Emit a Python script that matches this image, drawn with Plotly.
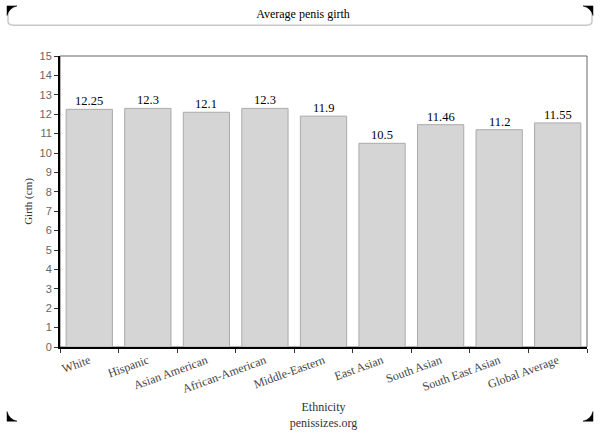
import plotly.graph_objects as go

# Data
ethnicities = ["White", "Hispanic", "Asian American", "African-American", "Middle-Eastern",
               "East Asian", "South Asian", "South East Asian", "Global Average"]
girth_cm = [12.25, 12.3, 12.1, 12.3, 11.9, 10.5, 11.46, 11.2, 11.55]
girth_text = ["12.25", "12.3", "12.1", "12.3", "11.9", "10.5", "11.46", "11.2", "11.55"]
y_ticks = list(range(0, 16))

W, H = 600, 440
L, R, T, B = 60, 13, 56, 82
pw, ph = W - L - R, H - T - B


def px(x):
    return (x - L) / pw


def py(y):
    return (H - B - y) / ph


serif = "Liberation Serif"
sans = "Liberation Sans"

fig = go.Figure(go.Bar(
    x=ethnicities, y=girth_cm,
    marker=dict(color="#d5d5d5", line=dict(color="#aaaaaa", width=1)),
    hoverinfo="x+y",
))

# value labels just above each bar
annotations = []
for name, val, txt in zip(ethnicities, girth_cm, girth_text):
    annotations.append(dict(x=name, y=val, text=txt, showarrow=False,
                            yanchor="bottom", yshift=-1,
                            font=dict(family=serif, size=12.5, color="black")))

shapes = []
# gray frame around plot area
shapes.append(dict(type="rect", xref="paper", yref="paper", x0=0, x1=1, y0=0, y1=1,
                   line=dict(color="#666666", width=1), layer="below"))
# title box
shapes.append(dict(type="path", xref="paper", yref="paper",
                   path=f"M {px(8)},{py(5)} L {px(8)},{py(20)} Q {px(8)},{py(24)} {px(13)},{py(24)} "
                        f"L {px(587)},{py(24)} Q {px(592)},{py(24)} {px(592)},{py(20)} L {px(592)},{py(5)}",
                   line=dict(color="#c8c8c8", width=1.5)))
# corner marks
corners = [(7, 4, 1, 1), (593, 4, -1, 1), (7, 435, 1, -1), (593, 435, -1, -1)]
for cx, cy, dx, dy in corners:
    s = 10
    path = (f"M {px(cx)},{py(cy)} L {px(cx + dx * s)},{py(cy)} "
            f"Q {px(cx + dx * 2)},{py(cy + dy * 2)} {px(cx)},{py(cy + dy * s)} Z")
    shapes.append(dict(type="path", xref="paper", yref="paper", path=path,
                       fillcolor="black", line=dict(color="black", width=0.5)))

fig.update_layout(
    width=W, height=H,
    margin=dict(l=L, r=R, t=T, b=B),
    paper_bgcolor="white", plot_bgcolor="white",
    font=dict(family=serif, size=11, color="#333333"),
    title=dict(text="Average penis girth", x=0.505, xref="container", xanchor="center",
               y=1 - 14 / H, yref="container", yanchor="middle",
               font=dict(family=serif, size=12, color="black")),
    bargap=0.21,
    showlegend=False,
    shapes=shapes,
    annotations=annotations,
    xaxis=dict(
        tickangle=-20, tickson="boundaries", ticks="outside", ticklen=4,
        tickcolor="#333333", showline=True, linecolor="black", linewidth=2,
        tickfont=dict(family=serif, size=12, color="#444444"),
        title=dict(text="Ethnicity<br>penissizes.org", standoff=8,
                   font=dict(family=serif, size=12, color="#333333")),
        fixedrange=True,
    ),
    yaxis=dict(
        range=[0, 15], tickvals=y_ticks, ticks="outside", ticklen=4,
        tickcolor="#333333", showline=True, linecolor="black", linewidth=2,
        showgrid=False, zeroline=False,
        tickfont=dict(family=sans, size=11, color="#666666"),
        title=dict(text="Girth (cm)", standoff=5,
                   font=dict(family=serif, size=11, color="#333333")),
        fixedrange=True,
    ),
)

fig.write_html("out.html", config={"displayModeBar": False},
               post_script="document.body.style.margin='0';document.body.style.overflow='hidden';")
